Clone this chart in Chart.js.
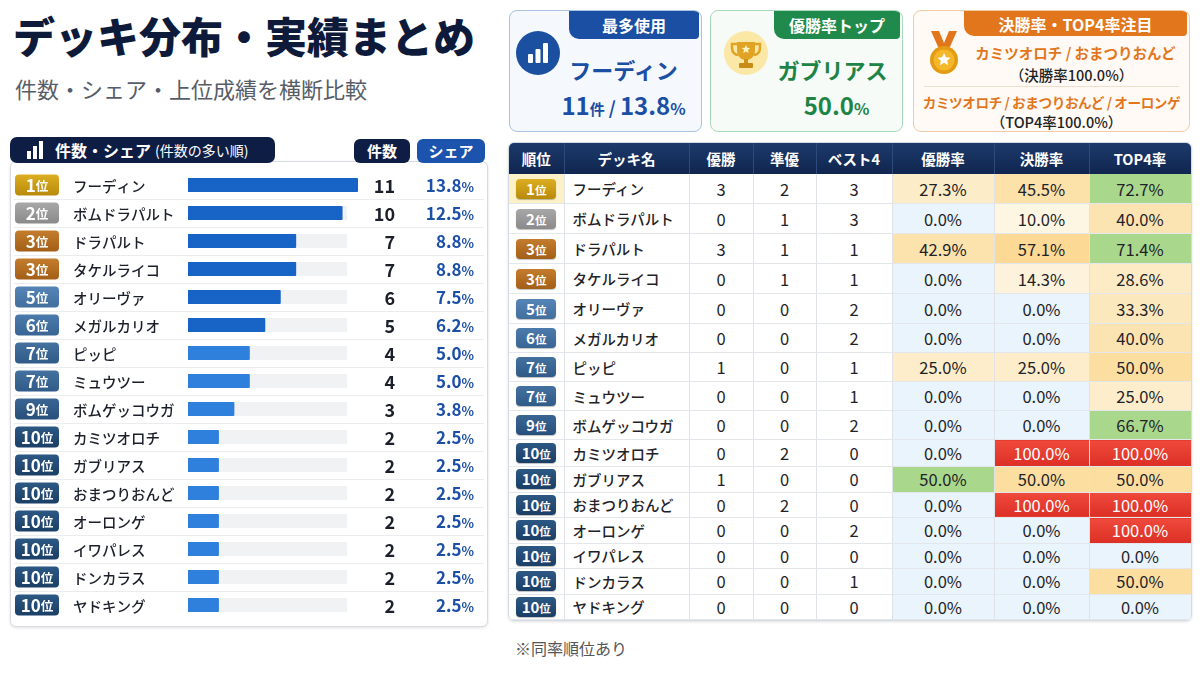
<!DOCTYPE html>
<html>
<head>
<meta charset="utf-8">
<title>デッキ分布・実績まとめ</title>
<style>
  body { margin: 0; width: 1200px; height: 675px; background: #fff; position: relative; overflow: hidden;
         font-family: "Noto Sans CJK JP", "Noto Sans", sans-serif; color: #1b1f2a; }
  .abs { position: absolute; }
  h1 { position: absolute; left: 13px; top: 5px; margin: 0; font-size: 42px; font-weight: 900; color: #0d1a3a; line-height: 60px; }
  .sub { left: 15px; top: 72px; font-size: 22px; color: #575d68; line-height: 32px; }

  .card { position: absolute; top: 10px; height: 122px; box-sizing: border-box; border-radius: 8px; border: 1.5px solid; overflow: hidden; }
  .card .tab { position: absolute; top: 0; right: 2px; color: #fff; font-weight: 700; font-size: 16px;
               display: flex; align-items: center; justify-content: center; border-bottom-left-radius: 10px; border-bottom-right-radius: 4px; }
  .card .line { position: absolute; left: 0; right: 0; text-align: center; font-weight: 700; white-space: nowrap; }
  .c1 { left: 509px; width: 193px; border-color: #a9c1e3; background: #f5f9fe; }
  .c1 .tab { width: 130px; height: 28px; background: #1b4fa3; }
  .c2 { left: 710px; width: 193px; border-color: #a9d9bb; background: #f6fbf8; }
  .c2 .tab { width: 126px; height: 28px; background: #1f8a4c; }
  .c3 { left: 913px; width: 277px; border-color: #f1cba6; background: #fffaf5; }
  .c3 .tab { width: 223px; height: 25px; background: #e2761c; }
  .blue { color: #1b4fa3; }
  .green { color: #1e8446; }
  .orange { color: #e2761c; }

  .tabhead { left: 10px; top: 137px; width: 265px; height: 26px; background: #0e1d44; border-radius: 7px; color: #fff; z-index: 2;
             display: flex; align-items: center; }
  .tabhead b { font-size: 16px; margin-left: 12px; }
  .tabhead span { font-size: 14px; margin-left: 4px; }
  .pill { top: 139px; height: 24px; border-radius: 6px; color: #fff; font-weight: 700; font-size: 15px; text-align: center; line-height: 24px; }
  .panel { left: 10px; top: 161px; width: 478px; height: 466px; box-sizing: border-box; border: 1px solid #d8dce2; border-radius: 6px;
           background: #fff; box-shadow: 0 1px 3px rgba(0,0,0,0.12); }
  #countChart { position: absolute; left: 10px; top: 165px; }

  .tbl { left: 508px; top: 142px; width: 682px; border-radius: 6px; overflow: hidden; border: 1px solid #d5dbe3; box-shadow: 0 1px 3px rgba(0,0,0,0.12); }
  table { border-collapse: collapse; width: 682px; table-layout: fixed; }
  th { height: 31px; padding: 0; color: #fff; font-size: 14.5px; font-weight: 700; background: linear-gradient(#1c3a6b, #10254f);
       border-right: 1px solid #2f4a78; }
  td { padding: 0; text-align: center; vertical-align: middle; font-size: 16.5px; border-right: 1px solid #dfe3e8; border-bottom: 1px solid #e3e6ea; color: #1f2328; }
  td.name { text-align: left; padding-left: 8px; font-size: 14.5px; font-weight: 500; }
  tr.h30 td { height: 29px; }
  tr.h29 td { height: 28px; }
  tr.h27 td { height: 26px; }
  tr.h25 td { height: 24.5px; }
  .badge { display: block; margin: 0 auto; width: 40px; height: 20px; line-height: 20px; border-radius: 4px; color: #fff; font-weight: 700; font-size: 15px;
           box-shadow: 0 1px 1px rgba(0,0,0,0.25); }
  .badge small { font-size: 11.5px; }
  .note { left: 515px; top: 636px; font-size: 16px; color: #555; }
</style>
</head>
<body>

<h1>デッキ分布・実績まとめ</h1>
<div class="abs sub">件数・シェア・上位成績を横断比較</div>

<div class="card c1">
  <div class="tab">最多使用</div>
  <svg class="abs" style="left:5px;top:19px" width="46" height="46" viewBox="0 0 46 46">
    <circle cx="23" cy="23" r="22" fill="#1b4f9f"/>
    <rect x="13" y="24" width="5" height="9" rx="1" fill="#fff"/>
    <rect x="20.5" y="19" width="5" height="14" rx="1" fill="#fff"/>
    <rect x="28" y="13" width="5" height="20" rx="1" fill="#fff"/>
  </svg>
  <div class="line blue" style="top:42px;left:36px;font-size:22px">フーディン</div>
  <div class="line blue" style="top:76px;left:36px;font-size:24px"><span>11</span><span style="font-size:15px">件</span><span style="font-size:18px"> / </span><span>13.8</span><span style="font-size:16px">%</span></div>
</div>

<div class="card c2">
  <div class="tab">優勝率トップ</div>
  <svg class="abs" style="left:12px;top:19px" width="46" height="46" viewBox="0 0 46 46">
    <circle cx="23" cy="23" r="22" fill="#fbe7a6"/>
    <path d="M14 12 H32 V20 C32 27 27 30 23 30 C19 30 14 27 14 20 Z" fill="#e0a323"/>
    <path d="M14 14 H9 V18 C9 23 13 25 15 25" stroke="#e0a323" stroke-width="2.5" fill="none"/>
    <path d="M32 14 H37 V18 C37 23 33 25 31 25" stroke="#e0a323" stroke-width="2.5" fill="none"/>
    <rect x="21" y="29" width="4" height="5" fill="#d0921a"/>
    <rect x="16" y="33" width="14" height="5" rx="1" fill="#c98b16"/>
    <path d="M23 15 l1.3 2.8 3 .3 -2.3 2 .7 3 -2.7 -1.6 -2.7 1.6 .7 -3 -2.3 -2 3 -.3 z" fill="#fff4c2"/>
  </svg>
  <div class="line green" style="top:42px;left:52px;font-size:22px">ガブリアス</div>
  <div class="line green" style="top:76px;left:60px;font-size:24px">50.0<span style="font-size:16px">%</span></div>
</div>

<div class="card c3">
  <div class="tab">決勝率・TOP4率注目</div>
  <svg class="abs" style="left:14px;top:20px" width="32" height="44" viewBox="0 0 32 44">
    <path d="M3 0 H11 L16 12 L21 0 H29 L21 18 H11 Z" fill="#e2761c"/>
    <circle cx="16" cy="29" r="14" fill="#e39b13"/>
    <circle cx="16" cy="29" r="10.5" fill="#f4b82a"/>
    <path d="M16 22 l2 4.2 4.5 .5 -3.4 3 1 4.5 -4.1 -2.4 -4.1 2.4 1 -4.5 -3.4 -3 4.5 -.5 z" fill="#fff"/>
  </svg>
  <div class="line orange" style="top:31px;left:48px;font-size:14.5px">カミツオロチ / おまつりおんど</div>
  <div class="line" style="top:53px;left:40px;font-size:14.5px;font-weight:500;color:#222">（決勝率100.0%）</div>
  <div class="abs" style="left:10px;right:10px;top:75px;border-top:1px solid #f0ddca"></div>
  <div class="line orange" style="top:81px;left:2px;right:2px;font-size:13.6px;letter-spacing:-0.4px">カミツオロチ / おまつりおんど / オーロンゲ</div>
  <div class="line" style="top:100px;left:10px;font-size:14.5px;font-weight:500;color:#222">（TOP4率100.0%）</div>
</div>

<div class="abs panel"></div>
<div class="abs tabhead">
  <svg style="margin-left:17px" width="16" height="18" viewBox="0 0 16 18">
    <rect x="0" y="10" width="4" height="8" fill="#fff"/><rect x="6" y="5" width="4" height="13" fill="#fff"/><rect x="12" y="0" width="4" height="18" fill="#fff"/>
  </svg>
  <b>件数・シェア</b><span>(件数の多い順)</span>
</div>
<div class="abs pill" style="left:354px;width:56px;background:#0e1d44">件数</div>
<div class="abs pill" style="left:417px;width:68px;background:#1b53ad">シェア</div>
<canvas id="countChart" width="478" height="462"></canvas>

<div class="abs tbl"><table id="resultTable">
  <colgroup><col style="width:55px"><col style="width:125px"><col style="width:64px"><col style="width:63px"><col style="width:76px"><col style="width:102px"><col style="width:95px"><col style="width:102px"></colgroup>
  <thead><tr><th>順位</th><th>デッキ名</th><th>優勝</th><th>準優</th><th>ベスト4</th><th>優勝率</th><th>決勝率</th><th>TOP4率</th></tr></thead>
  <tbody id="resultBody"></tbody>
</table></div>

<div class="abs note">※同率順位あり</div>

<script src="https://cdn.jsdelivr.net/npm/chart.js"></script>
<script>
  // 件数・シェア
  const ranks = [1, 2, 3, 3, 5, 6, 7, 7, 9, 10, 10, 10, 10, 10, 10, 10];
  const decks = ['フーディン', 'ボムドラパルト', 'ドラパルト', 'タケルライコ', 'オリーヴァ', 'メガルカリオ', 'ピッピ', 'ミュウツー',
                 'ボムゲッコウガ', 'カミツオロチ', 'ガブリアス', 'おまつりおんど', 'オーロンゲ', 'イワパレス', 'ドンカラス', 'ヤドキング'];
  const counts = [11, 10, 7, 7, 6, 5, 4, 4, 3, 2, 2, 2, 2, 2, 2, 2];
  const shares = [13.8, 12.5, 8.8, 8.8, 7.5, 6.2, 5.0, 5.0, 3.8, 2.5, 2.5, 2.5, 2.5, 2.5, 2.5, 2.5];

  // 上位成績
  const wins      = [3, 0, 3, 0, 0, 0, 1, 0, 0, 0, 1, 0, 0, 0, 0, 0];
  const runnerUps = [2, 1, 1, 1, 0, 0, 0, 0, 0, 2, 0, 2, 0, 0, 0, 0];
  const best4     = [3, 3, 1, 1, 2, 2, 1, 1, 2, 0, 0, 0, 2, 0, 1, 0];
  const winRate   = [27.3, 0, 42.9, 0, 0, 0, 25.0, 0, 0, 0, 50.0, 0, 0, 0, 0, 0];
  const finalRate = [45.5, 10.0, 57.1, 14.3, 0, 0, 25.0, 0, 0, 100, 50.0, 100, 0, 0, 0, 0];
  const top4Rate  = [72.7, 40.0, 71.4, 28.6, 33.3, 40.0, 50.0, 25.0, 66.7, 100, 50.0, 100, 100, 0, 50.0, 0];

  const TRACK = 10.3;
  const FONT = '"Noto Sans CJK JP", "Noto Sans", sans-serif';

  function rankColors(r) {
    if (r === 1) return ['#dcae22', '#b98a0a'];
    if (r === 2) return ['#a8a8a8', '#8a8a8a'];
    if (r === 3) return ['#c47d2e', '#a25f16'];
    if (r === 5) return ['#5584b6', '#41709f'];
    if (r === 6) return ['#4b7aac', '#386594'];
    if (r === 7) return ['#44719f', '#305b89'];
    if (r === 9) return ['#3a6593', '#274f7b'];
    return ['#2c5884', '#1b3f66'];
  }

  function drawBadge(ctx, x, y, w, h, r) {
    const [c1, c2] = rankColors(r);
    const g = ctx.createLinearGradient(0, y, 0, y + h);
    g.addColorStop(0, c1); g.addColorStop(1, c2);
    ctx.fillStyle = g;
    ctx.beginPath(); ctx.roundRect(x, y, w, h, 4); ctx.fill();
    ctx.fillStyle = '#fff';
    ctx.textBaseline = 'middle';
    ctx.font = '700 17px ' + FONT;
    const num = String(r);
    const nw = ctx.measureText(num).width;
    ctx.font = '700 12.5px ' + FONT;
    const iw = ctx.measureText('位').width;
    const sx = x + (w - nw - iw) / 2;
    ctx.textAlign = 'left';
    ctx.font = '700 17px ' + FONT;
    ctx.fillText(num, sx, y + h / 2 + 1);
    ctx.font = '700 12.5px ' + FONT;
    ctx.fillText('位', sx + nw, y + h / 2 + 1);
  }

  const rowLabels = {
    id: 'rowLabels',
    beforeDatasetsDraw(chart) {
      const { ctx, scales: { y } } = chart;
      const pitch = y.getPixelForValue(1) - y.getPixelForValue(0);
      ctx.save();
      ctx.strokeStyle = '#ececef';
      ctx.lineWidth = 1;
      for (let i = 0; i < decks.length - 1; i++) {
        const ly = Math.round(y.getPixelForValue(i) + pitch / 2) + 0.5;
        ctx.beginPath(); ctx.moveTo(4, ly); ctx.lineTo(474, ly); ctx.stroke();
      }
      ctx.restore();
    },
    afterDatasetsDraw(chart) {
      const { ctx, scales: { y } } = chart;
      ctx.save();
      decks.forEach((name, i) => {
        const cy = y.getPixelForValue(i);
        drawBadge(ctx, 5, cy - 10.5, 44, 21, ranks[i]);
        ctx.textBaseline = 'middle';
        ctx.textAlign = 'left';
        ctx.fillStyle = '#1b1f2a';
        ctx.font = '500 14.5px ' + FONT;
        ctx.fillText(name, 63, cy + 1);
        ctx.textAlign = 'right';
        ctx.font = '700 18px ' + FONT;
        ctx.fillText(String(counts[i]), 385, cy + 1);
        ctx.fillStyle = '#1c4fa8';
        ctx.font = '700 13px ' + FONT;
        const pw = ctx.measureText('%').width;
        ctx.fillText('%', 464, cy + 2.5);
        ctx.font = '700 17px ' + FONT;
        ctx.fillText(shares[i].toFixed(1), 464 - pw, cy + 1);
      });
      ctx.restore();
    }
  };

  new Chart(document.getElementById('countChart').getContext('2d'), {
    type: 'bar',
    data: {
      labels: decks,
      datasets: [
        {
          label: '件数',
          data: counts,
          backgroundColor: counts.map((c, i) => i < 6 ? '#1763c6' : '#2f7fdd'),
          barPercentage: 0.5,
          categoryPercentage: 1,
          borderRadius: 1,
          order: 0
        },
        {
          label: 'track',
          data: decks.map(() => TRACK),
          backgroundColor: '#f1f2f4',
          barPercentage: 0.5,
          categoryPercentage: 1,
          order: 1
        }
      ]
    },
    options: {
      responsive: false,
      animation: false,
      indexAxis: 'y',
      layout: { padding: { left: 178, right: 130, top: 6, bottom: 8 } },
      datasets: { bar: { grouped: false } },
      scales: {
        x: { display: false, min: 0, max: 11 },
        y: { display: false }
      },
      plugins: { legend: { display: false }, tooltip: { enabled: false } }
    },
    plugins: [rowLabels]
  });

  // 成績テーブル
  function mix(a, b, t) {
    const pa = a.match(/\w\w/g).map(h => parseInt(h, 16));
    const pb = b.match(/\w\w/g).map(h => parseInt(h, 16));
    return 'rgb(' + pa.map((v, k) => Math.round(v + (pb[k] - v) * t)).join(',') + ')';
  }
  function heat(v, col) {
    if (v === 0) return ['#e9f4fc', '#1f2328'];
    if (v >= 100) return ['linear-gradient(#ef4a3c, #dc2f25)', '#fff'];
    if (v >= 60 || (col === 0 && v >= 50)) return ['#a9d78b', '#1f2328'];
    const t = Math.min(1, Math.max(0, (v - 10) / 65));
    return [mix('fdf6e3', 'fbcf78', t), '#1f2328'];
  }
  function rowClass(i) {
    if (i < 5) return 'h30';
    if (i < 9) return 'h29';
    if (i < 10) return 'h27';
    return 'h25';
  }

  const tbody = document.getElementById('resultBody');
  decks.forEach((name, i) => {
    const [c1, c2] = rankColors(ranks[i]);
    const tr = document.createElement('tr');
    tr.className = rowClass(i);
    const rates = [winRate[i], finalRate[i], top4Rate[i]].map((v, col) => {
      const [bg, fg] = heat(v, col);
      return `<td style="background:${bg};color:${fg}">${v.toFixed(1)}%</td>`;
    }).join('');
    tr.innerHTML = `
      <td style="${i === 0 ? 'background:#fdf1c8' : ''}"><span class="badge" style="background:linear-gradient(${c1},${c2})">${ranks[i]}<small>位</small></span></td>
      <td class="name">${name}</td>
      <td>${wins[i]}</td>
      <td>${runnerUps[i]}</td>
      <td>${best4[i]}</td>
      ${rates}
    `;
    tbody.appendChild(tr);
  });
</script>

</body>
</html>
